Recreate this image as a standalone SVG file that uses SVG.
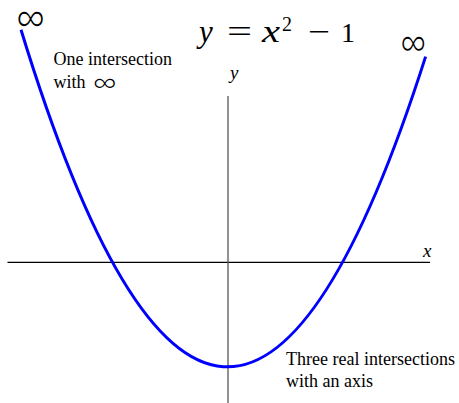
<svg xmlns="http://www.w3.org/2000/svg" width="459" height="403" viewBox="0 0 459 403">
<style>
.serif{font-family:"Liberation Serif","Times New Roman",serif;fill:#000}
.it{font-style:italic}
.note{font-size:18px}
.inf{font-family:"Noto Sans","Open Sans",sans-serif;font-weight:300;fill:#000}
</style>
<rect width="459" height="403" fill="#fff"/>
<g id="axes">
<line id="x-axis" x1="7.5" y1="262.3" x2="430" y2="262.3" stroke="#000" stroke-width="1.3"/>
<line id="y-axis" x1="228" y1="96" x2="228" y2="403" stroke="#555" stroke-width="1.3"/>
</g>
<g id="connectors">
<path id="curve" d="M21,29.7 Q223.3,690.2 425.6,56.6" fill="none" stroke="#0000ff" stroke-width="3"/>
</g>
<g id="labels">
<text class="serif it" x="230" y="79" font-size="19">y</text>
<text class="serif it" x="423" y="257" font-size="19">x</text>
<g id="title">
<text class="serif it" x="199" y="42" font-size="31">y</text>
<text class="serif" x="227" y="42" font-size="31" textLength="25" lengthAdjust="spacingAndGlyphs">=</text>
<text class="serif it" x="262" y="42" font-size="31" textLength="18" lengthAdjust="spacingAndGlyphs">x</text>
<text class="serif" x="282" y="31" font-size="20">2</text>
<text class="serif" x="308" y="42" font-size="31" textLength="22" lengthAdjust="spacingAndGlyphs">−</text>
<text class="serif" x="341" y="42" font-size="28">1</text>
</g>
<text class="inf" x="16.5" y="36" font-size="48" textLength="28.5" lengthAdjust="spacingAndGlyphs">∞</text>
<text class="inf" x="400.5" y="59.5" font-size="46" textLength="25.5" lengthAdjust="spacingAndGlyphs">∞</text>
</g>
<g id="note-top">
<text class="serif note" x="53.5" y="65">One intersection</text>
<text class="serif note" x="53.5" y="87.5">with</text>
<text class="inf" x="93" y="93.5" font-size="30" textLength="23.5" lengthAdjust="spacingAndGlyphs">∞</text>
</g>
<g id="note-bottom">
<text class="serif note" x="286" y="364.5">Three real intersections</text>
<text class="serif note" x="286" y="387">with an axis</text>
</g>
</svg>
